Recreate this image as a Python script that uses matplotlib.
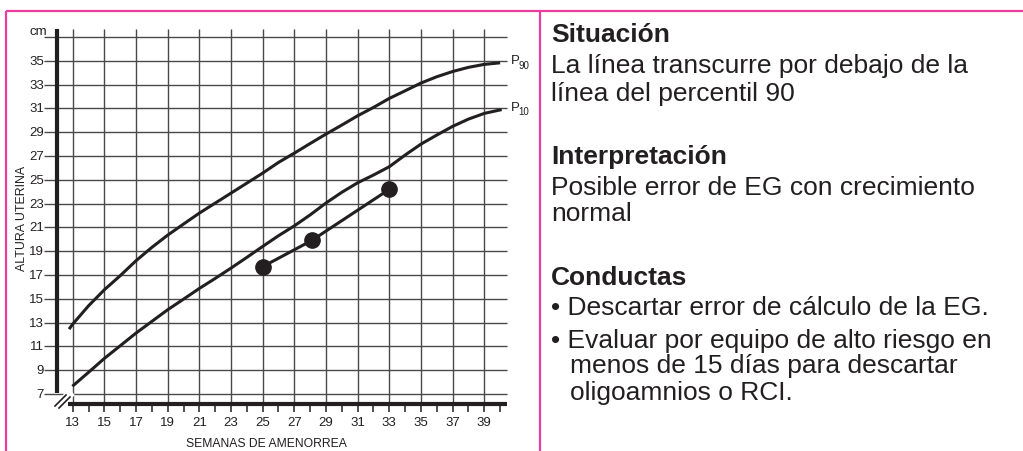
import matplotlib

matplotlib.use("Agg")
import matplotlib.pyplot as plt

plt.rcParams["font.family"] = ["Liberation Sans", "DejaVu Sans"]

INK = "#231F20"
GRID = "#4A4A4A"
PINK = "#E83E9E"
NARROW = ["Liberation Sans Narrow", "Liberation Sans", "DejaVu Sans"]

# percentile curves (weeks, cm)
p90_weeks = [12.77, 13, 14, 15, 16, 17, 18, 19, 20, 21, 22, 23, 24, 25, 26, 27,
             28, 29, 30, 31, 32, 33, 34, 35, 36, 37, 38, 39, 40.0]
p90_cm = [12.45, 12.87, 14.41, 15.76, 16.94, 18.2, 19.32, 20.35, 21.28, 22.2, 23.04,
          23.88, 24.72, 25.56, 26.46, 27.24, 28.05, 28.84, 29.6, 30.38, 31.08, 31.84,
          32.48, 33.13, 33.66, 34.1, 34.45, 34.7, 34.83]
p10_weeks = [12.98, 14, 15, 16, 17, 18, 19, 20, 21, 22, 23, 24, 25, 26, 27,
             28, 29, 30, 31, 32, 33, 34, 35, 36, 37, 38, 39, 40.1]
p10_cm = [7.65, 8.82, 9.99, 11.05, 12.12, 13.1, 14.08, 14.97, 15.87, 16.71, 17.58,
          18.48, 19.4, 20.3, 21.13, 22.05, 23.05, 23.95, 24.75, 25.4, 26.1, 27.08,
          28.0, 28.76, 29.49, 30.1, 30.58, 30.9]

# patient measurements
patient_weeks = [25.0, 28.1, 33.0]
patient_cm = [17.7, 19.9, 24.2]

y_ticks = list(range(7, 37, 2))
x_ticks = list(range(13, 40, 2))

W, H = 1023, 452

# pixel <-> data mapping of the chart
X0, XS = 72.7, 15.83   # pixel of week 13, pixels per week
Y0, YS = 395.0, 11.9   # pixel of 7 cm, pixels per cm


def wk(px):
    return 13 + (px - X0) / XS


def cm(py):
    return 7 + (Y0 - py) / YS


fig = plt.figure(figsize=(W / 100, H / 100), dpi=100, facecolor="white")

# frame / panel lines
bg = fig.add_axes([0, 0, 1, 1])
bg.set_xlim(0, W)
bg.set_ylim(H, 0)
bg.axis("off")
bg.plot([6, W], [12, 12], color=PINK, lw=1.6, solid_capstyle="butt")
bg.plot([6, 6], [12, H], color=PINK, lw=1.6, solid_capstyle="butt")
bg.plot([539.5, 539.5], [12, H], color=PINK, lw=1.6, solid_capstyle="butt")

# chart axes
xlim = (11.0, 41.5)
ylim = (5.0, 38.5)
left_px = X0 + (xlim[0] - 13) * XS
right_px = X0 + (xlim[1] - 13) * XS
bottom_px = Y0 - (ylim[0] - 7) * YS
top_px = Y0 - (ylim[1] - 7) * YS
ax = fig.add_axes([left_px / W, 1 - bottom_px / H,
                   (right_px - left_px) / W, (bottom_px - top_px) / H])
ax.set_xlim(*xlim)
ax.set_ylim(*ylim)
ax.axis("off")

x_end = wk(506.7)
y_top = cm(30)
y_axis_bar = cm(404.5)

ax.hlines(y_ticks + [37], wk(44), x_end, color=GRID, lw=1.0, zorder=1)
ax.vlines(x_ticks, y_axis_bar, y_top, color=GRID, lw=1.0, zorder=1)
ax.vlines(range(13, 41), cm(413), y_axis_bar, color=INK, lw=1.1, zorder=2)

# axes bars
ax.plot([wk(57), wk(57)], [cm(394), y_top], color=INK, lw=3.0, solid_capstyle="butt", zorder=3)
ax.plot([wk(68.3), x_end], [y_axis_bar, y_axis_bar], color=INK, lw=3.0, solid_capstyle="butt", zorder=3)

# axis break marks
ax.plot([wk(54), wk(72)], [cm(410), cm(393)], color="white", lw=6, zorder=3.5, solid_capstyle="butt")
for dx in (0, 4):
    ax.plot([wk(55 + dx), wk(66 + dx)], [cm(407 + dx * 0.5), cm(396 + dx * 0.5)],
            color=INK, lw=1.2, zorder=4)

# tick labels
for v in y_ticks:
    ax.text(wk(44), v, str(v), ha="right", va="center", fontsize=9.5,
            family=NARROW, color=INK)
ax.text(wk(47.5), cm(37.5), "cm", ha="right", va="bottom", fontsize=9.5,
        family=NARROW, color=INK)
for v in x_ticks:
    ax.text(v, cm(423), str(v), ha="center", va="center", fontsize=9.5,
            family=NARROW, color=INK)

ax.text(wk(266), cm(444), "SEMANAS DE AMENORREA", ha="center", va="center",
        fontsize=8.7, family=NARROW, color=INK)
ax.text(wk(22), cm(218), "ALTURA UTERINA", ha="center", va="center",
        rotation=90, fontsize=8.9, family=NARROW, color=INK)

# percentile curves
ax.plot(p90_weeks, p90_cm, color=INK, lw=2.2, solid_capstyle="butt", zorder=5)
ax.plot(p10_weeks, p10_cm, color=INK, lw=2.2, solid_capstyle="butt", zorder=5)
for lbl, yv in (("90", p90_cm[-1]), ("10", p10_cm[-1])):
    ax.text(wk(511), yv + 0.25, "P", ha="left", va="center", fontsize=9.5,
            family=NARROW, color=INK)
    ax.text(wk(518.5), yv - 0.15, lbl, ha="left", va="center", fontsize=7,
            family=NARROW, color=INK)

# patient line
ax.plot(patient_weeks, patient_cm, color=INK, lw=2.2, marker="o", markersize=11,
        markerfacecolor=INK, markeredgecolor=INK, zorder=6)

# right text panel
TX = 551
fs = 19.0
bg.text(TX, 42.5, "Situación", fontsize=fs, fontweight="bold", color=INK, va="baseline")
bg.text(TX, 73.5, "La línea transcurre por debajo de la", fontsize=fs, color=INK, va="baseline")
bg.text(TX, 100.5, "línea del percentil 90", fontsize=fs, color=INK, va="baseline")
bg.text(TX, 164, "Interpretación", fontsize=fs, fontweight="bold", color=INK, va="baseline")
bg.text(TX, 195, "Posible error de EG con crecimiento", fontsize=fs, color=INK, va="baseline")
bg.text(TX, 221.5, "normal", fontsize=fs, color=INK, va="baseline")
bg.text(TX, 285, "Conductas", fontsize=fs, fontweight="bold", color=INK, va="baseline")
bg.text(TX, 315, "• Descartar error de cálculo de la EG.", fontsize=fs, color=INK, va="baseline")
bg.text(TX, 348.5, "• Evaluar por equipo de alto riesgo en", fontsize=fs, color=INK, va="baseline")
bg.text(TX + 19, 373.5, "menos de 15 días para descartar", fontsize=fs, color=INK, va="baseline")
bg.text(TX + 19, 400, "oligoamnios o RCI.", fontsize=fs, color=INK, va="baseline")

fig.savefig("out.png", dpi=100, facecolor="white")
